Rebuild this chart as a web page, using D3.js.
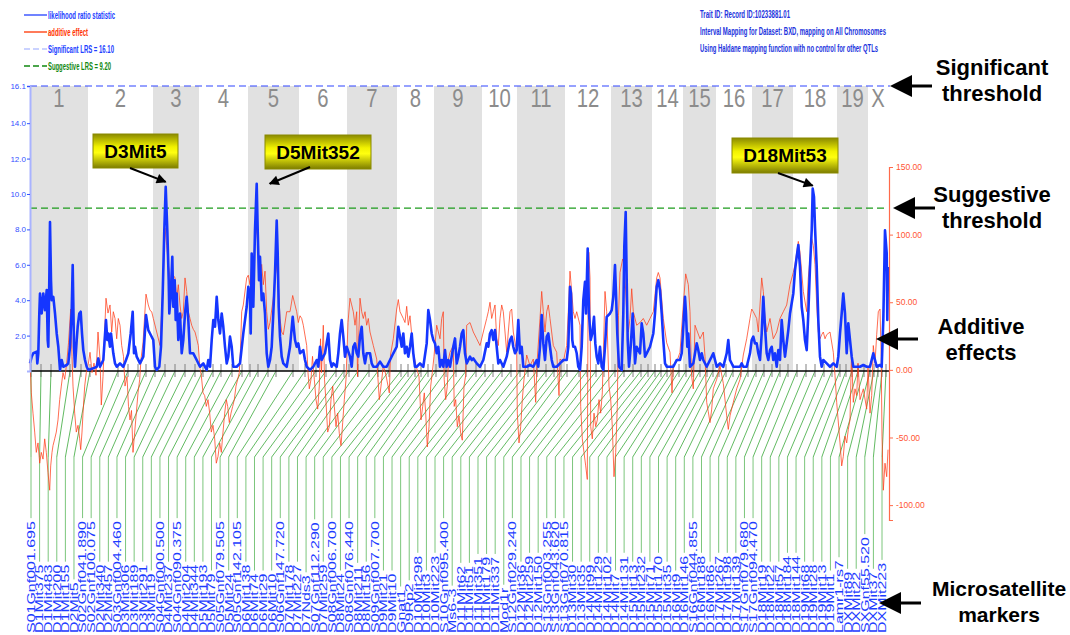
<!DOCTYPE html>
<html>
<head>
<meta charset="utf-8">
<script src="https://cdn.jsdelivr.net/npm/d3@7"></script>
<style>
  body { margin: 0; background: #fff; }
  svg { display: block; font-family: "Liberation Sans", Arial, sans-serif; }
</style>
</head>
<body>
<div id="chart"></div>
<script>
// ---- data ----
const chromosomes = ['1','2','3','4','5','6','7','8','9','10','11','12','13','14','15','16','17','18','19','X'];
// chromosome lengths, in map units along the x axis
const chromLengths = [58,65,46,49,51,48,50,37,48,35,48,46,41,31,33,36,41,44,31,20];

const markerNames = [
  'S01Gnf001.695','D1Mit375','D1Mit483','D1Mit200','D1Mit155',
  'D2Mit5','S02Gnf041.890','S02Gnf100.075','D2Mit340','D2Mit457',
  'S03Gnf004.460','D3Mit306','D3Mit189','D3Mit291','D3Mit19',
  'S04Gnf000.500','D4Mit237','S04Gnf090.375','D4Mit204','D4Mit344',
  'D5Mit193','D5Mit79','S05Gnf079.505','D5Mit24','S05Gnf142.105',
  'D6Mit138','D6Mit74','D6Mit29','D6Mit10','S06Gnf147.720',
  'D7Mit178','D7Mit227','D7Nds3','S07Gnf112.290','D7Mit259',
  'S08Gnf006.700','D8Mit24','S08Gnf076.440','D8Mit211','D8Mit156',
  'S09Gnf007.700','D9Mit21','D9Mit10','Gnat1','D9Rp2',
  'D10Mit298','D10Mit3','D10Mit223','S10Gnf095.400',
  'Ms6-3','D11Mit62','D11Mit51','D11Mit351','D11Mit179','D11Mit337',
  'Mod1r','S12Gnf029.240','D12Mit36','D12Mit259','D12Mit150',
  'S13Gnf003.255','S13Gnf043.620','S13Gnf070.815','D13Mit30','D13Mit35',
  'D14Mit99','D14Mit129','D14Mit102','D14Mit7','D14Mit131',
  'D15Mit13','D15Mit232','D15Mit71','D15Mit170','D15Mit35',
  'D16Mit9','D16Mit146','S16Gnf044.855','D16Mit188','D16Mit86',
  'D17Mit267','D17Mit198','D17Mit139','S17Gnf079.680','S17Gnf094.470',
  'D18Mit19','D18Mit22','D18Mit57','D18Mit184','D18Mit144',
  'D19Mit68','D19Mit28','D19Mit13','D19Mit1','Lamr1-rs7',
  'DXMit89','DXMit22','SXGnf55.520','DXMit37','DXMit223'
];
const markerPos = [
  1,11,21,40,51, 60,88,98,108,116, 125,135,145,155,165, 173,183,191,202,212,
  220,228,238,246,263, 275,286,296,306,314, 319,328,339,348,359, 371,378,385,391,398,
  406,416,426,436,446, 455,463,472,481, 490,498,507,516,524,531, 537,549,557,566,574,
  585,594,603,611,618, 625,631,637,643,649, 656,663,670,677,683, 689,696,703,711,718,
  726,734,742,750,758, 767,776,785,794,802, 810,816,822,828,834, 840,844,848,852,856
];

// likelihood ratio statistic: [position, LRS]
const lrsPoints = [
  [0,0.43],[1.7,0.81],[3.3,1.0],[6.7,1.09],[7.3,0.43],[8.3,1.0],[9.3,3.25],[10,4.38],[11.7,3.25],[13.3,4.38],
  [15,3.44],[16.7,4.57],[17.7,1.75],[18.3,1.37],[19.3,5.13],[20,8.42],[21,5.13],[21.7,4.0],[23.3,4.19],[25,3.25],
  [26.7,2.12],[28.3,1.37],[30,0.06],[31.7,0.62],[33.3,0.24],[36.7,0.34],[38.3,0.43],[40,1.37],[41.7,3.44],[42.7,5.98],
  [44,1.37],[45,0.24],[46.7,1.75],[47.7,2.5],[49.3,3.25],[50.7,3.35],[52,2.12],[53.3,1.18],[55,0.62],[56.7,0.24],
  [58.3,0.06],[63.3,0.15],[66.7,0.24],[68.3,0.71],[70,0.24],[73.3,0.62],[76,2.88],[77.3,1.75],[78.3,2.12],[80,1.37],
  [81,2.12],[83.3,1.0],[85,0.43],[86.7,0.24],[90,0.43],[93.3,0.24],[96,0.62],[98.3,1.0],[100.7,2.12],[102.7,3.35],
  [104,1.0],[105,1.37],[106.7,0.81],[110,0.43],[113.3,0.81],[116,3.16],[118.3,2.31],[120,2.12],[123.3,1.75],[125,0.24],
  [126.7,0.06],[129.3,0.24],[131,1.37],[132.7,4.38],[134.3,7.95],[135.7,10.4],[137.3,7.95],[138.7,5.13],[139.3,3.25],[140.7,4.19],
  [142.3,6.45],[143.3,3.63],[144.7,5.13],[145.7,2.88],[146.7,4.38],[148.3,1.75],[150,3.25],[151.7,1.0],[153.3,1.75],[155,3.25],
  [156.7,4.19],[158.3,2.88],[160,1.0],[163.3,1.0],[166.7,0.62],[170,0.24],[173.3,0.43],[176.7,0.06],[178.3,0.62],[180,0.24],
  [181.7,1.75],[183.3,2.88],[185,2.5],[186.7,4.19],[188.3,2.88],[190,2.12],[191.7,3.25],[193.3,2.5],[195,1.37],[196.7,0.43],
  [198.3,0.81],[200,1.94],[201.7,1.37],[203.3,0.24],[206.7,0.24],[210,0.43],[213.3,2.12],[216.7,3.63],[218.3,4.76],[220,4.19],
  [220.7,2.12],[221.7,6.64],[223.3,3.63],[225,7.95],[226.7,10.58],[227.7,7.95],[229,5.13],[230,6.45],[231.7,4.0],[233.3,4.38],
  [235,3.25],[236.7,1.0],[238.3,0.24],[240,0.62],[241.7,1.37],[243.3,3.25],[245,5.5],[246.7,8.5],[247.7,6.64],[248.7,3.63],
  [250,1.94],[251.7,0.81],[253.3,0.43],[256.7,0.24],[260,1.37],[262.7,3.06],[265,1.75],[266.7,1.37],[268.3,1.56],[270,1.0],
  [273.3,1.18],[275,0.62],[276.7,0.24],[280,0.06],[283.3,0.24],[286.7,0.62],[288.3,0.24],[290,1.37],[291.7,0.62],[295,1.0],
  [298.3,2.12],[300,0.62],[301.7,0.24],[303.3,0.43],[306.7,0.24],[308.3,1.0],[310,2.12],[311.7,2.88],[313.3,1.94],[315,0.81],
  [316.7,1.37],[320,0.81],[321.7,0.24],[323.3,1.37],[325,1.56],[326.7,1.0],[328.3,0.81],[330,1.94],[331.7,2.5],[333.3,1.0],
  [335,0.43],[336.7,1.0],[340,1.0],[341.7,0.43],[343.3,0.24],[346.7,0.24],[350,0.53],[353.3,0.24],[356.7,0.24],[360,0.62],
  [363.3,1.0],[366.7,1.37],[368.3,2.5],[370,1.94],[371.7,1.37],[373.3,2.12],[375,1.0],[376.7,1.37],[378.3,0.81],[380,1.37],
  [381.7,2.12],[383.3,1.0],[385,0.24],[386.7,0.24],[390,0.43],[393.3,0.24],[396.7,1.56],[398.3,3.44],[400,2.88],[401.7,2.12],
  [403.3,1.75],[405,1.56],[406.7,1.0],[408.3,1.37],[410,0.24],[411.7,0.62],[413.3,0.24],[415,1.18],[416.7,0.24],[418.3,0.62],
  [420,0.24],[423.3,1.37],[425,1.84],[426.7,0.43],[428.3,0.81],[430,1.37],[431.7,2.12],[433.3,2.31],[435,1.0],[436.7,0.43],
  [440,0.81],[441.7,0.62],[443.3,0.71],[446.7,0.43],[450,0.24],[453.3,0.62],[456.7,1.56],[458.3,1.37],[460,2.12],[461.7,2.31],
  [463.3,1.75],[465,2.31],[466.7,1.37],[468.3,0.43],[470,0.62],[473.3,0.24],[476.7,0.81],[480,1.75],[481.7,1.94],[483.3,1.37],
  [485,1.0],[486.7,1.18],[488.3,2.88],[490,1.0],[491.7,1.37],[493.3,0.24],[496.7,0.24],[500,0.34],[503.3,0.24],[506.7,0.62],
  [508.3,0.24],[510,1.37],[511.7,3.16],[513.3,1.56],[515,0.62],[516.7,1.94],[518.3,2.12],[520,1.37],[521.7,0.62],[523.3,0.24],
  [526.7,0.24],[530,0.43],[533.3,0.62],[536.7,0.62],[538.3,1.37],[540,4.76],[541,4.38],[542.3,1.75],[543.3,1.37],[545,1.37],
  [546.7,1.0],[548.3,0.24],[550,0.06],[551.7,1.37],[553.3,4.0],[555,5.04],[556,3.25],[557.7,6.92],[559,3.25],[560.7,1.75],
  [562.3,2.12],[564,3.06],[565.3,1.56],[566.7,0.81],[568.3,0.43],[570,1.37],[571.7,0.24],[573.3,0.06],[575,1.37],[576.7,3.06],
  [580,3.25],[581.7,3.44],[583.3,4.19],[585,5.98],[586,4.38],[587.3,2.12],[589,0.24],[591.7,0.06],[593.3,3.25],[594.3,7.01],
  [595.7,8.98],[596.7,5.13],[597.7,1.75],[599,0.24],[600.7,1.37],[602.7,3.25],[604,1.75],[605,0.43],[606.7,1.37],[610,1.0],
  [611.7,2.69],[613.3,2.12],[615,0.81],[616.7,1.0],[620,1.37],[623.3,2.12],[625,3.25],[626.7,4.76],[628.3,5.13],[630,4.57],
  [631.7,3.25],[633.3,1.75],[635,0.43],[636.7,0.24],[643.3,0.24],[646.7,0.62],[650,0.62],[651.7,1.0],[653.3,2.5],[655,4.19],
  [656,3.25],[657.3,1.37],[658.3,2.12],[660,0.24],[663.3,0.43],[666.7,1.56],[668.3,1.18],[670,0.62],[671.7,1.0],[673.3,0.62],
  [676.7,0.24],[680,0.62],[681.7,0.81],[683.3,1.0],[686.7,0.24],[690,0.43],[693.3,0.24],[696.7,1.0],[698.3,1.75],[700,0.62],
  [703.3,0.24],[710,0.24],[711.7,0.43],[713.3,0.24],[716.7,0.24],[720,1.0],[721.7,1.75],[723.3,1.94],[725,1.56],[726.7,1.56],
  [728.3,1.0],[730,0.62],[731.7,2.12],[733.3,4.19],[735,2.5],[736.7,1.0],[738.3,0.62],[740,1.18],[741.7,1.37],[743.3,0.62],
  [745,1.0],[746.7,0.24],[748.3,1.18],[750,0.62],[751.7,2.88],[753.3,1.75],[755,0.81],[756.7,1.56],[758.3,2.31],[760,3.25],
  [763.3,4.38],[765,5.7],[766.7,6.45],[768.3,7.11],[770,5.88],[771.7,3.63],[773.3,2.88],[775,1.75],[776.7,1.18],[778.3,3.25],
  [780,5.88],[781.7,7.95],[782.7,10.3],[784,9.83],[785,8.14],[786.7,5.88],[788.3,2.88],[790,0.81],[791.7,0.24],[793.3,0.62],
  [796.7,0.43],[800,0.24],[803.3,0.43],[806.7,0.24],[808.3,0.81],[810,2.12],[811.7,3.25],[813.3,4.38],[815,3.25],[816.7,1.0],
  [818.3,2.69],[820,1.75],[821.7,0.81],[823.3,0.24],[830,0.24],[833.3,0.34],[836.7,0.24],[840,0.24],[843.3,1.0],[845,0.62],
  [846.7,0.24],[850,0.34],[851.7,0.24],[853.3,2.88],[855,7.95],[856.7,6.64],[857.3,2.88],[858,5.88]
];

// additive effect: [position, effect]
const additivePoints = [
  [0,8],[1.3,-17],[3,-32],[4.7,-46],[6.3,-61],[8,-54],[9.7,-69],[11.3,-61],[13,-66],[14.7,-51],[16.3,-61],[18,-76],
  [19.7,-89],[20.7,-71],[22,-61],[23,-56],[24.7,-51],[26.3,-46],[28,-37],[29.7,-22],[31.3,-12],[33,-2],[34.7,-7],[36.7,5],
  [38.5,20],[40.7,45],[42,10],[43,-12],[44.7,-32],[46.3,-46],[48,-41],[49.7,-51],[50.7,-59],[52,-46],[53,-32],[54.7,-12],
  [56.3,-2],[58,3],[60,13],[62,-2],[64,5],[66,-4],[68,28],[70,8],[71.3,-26],[73,-5],[75,35],[76,53],[78,42],[80,48],
  [81.7,28],[83.3,43],[85,38],[86.7,23],[88.3,38],[90,33],[91.7,18],[93.5,10],[95,-12],[97,-5],[98.5,-27],[100,-37],
  [101.5,-30],[103,-61],[104.7,-46],[106.3,-32],[108,-17],[109.7,-7],[111,8],[113,20],[116,56],[118.3,48],[120,44],[121.7,43],
  [123.3,38],[126.7,28],[130,18],[131.7,43],[133.3,68],[135,105],[136.7,92],[138.3,78],[140,68],[141.7,58],[143.3,70],[145,68],
  [146.7,53],[148.3,63],[150,48],[151.7,38],[153.3,43],[155,68],[156.7,58],[158.3,43],[160,38],[161.7,33],[163.3,30],[165,28],
  [166.7,23],[168.3,18],[170,1],[171.3,-4],[173,-17],[174.7,-19],[176.3,-27],[178,-22],[179.7,-32],[181.3,-46],[183,-41],[184.7,-51],
  [186.3,-69],[188,-64],[189.7,-54],[191.3,-61],[193,-46],[194.7,-32],[196.3,-22],[197.7,-27],[199.3,-39],[201,-32],[202.7,-27],[204.3,-22],
  [206,-12],[207.7,-7],[209.3,-2],[210.5,16],[211.7,43],[213.3,48],[216.7,68],[218.3,70],[220,63],[221.7,78],[223.3,75],[225,97],
  [226.7,105],[228.3,87],[230,68],[231.7,78],[233.3,63],[235,73],[236.7,43],[238.3,30],[240,35],[243.3,53],[245,68],[246.7,78],
  [248.3,63],[250,38],[251.7,28],[253.3,26],[256.7,43],[260,43],[262.7,55],[265,48],[266.7,43],[268.3,35],[270,40],[271.7,38],
  [273.3,33],[276.7,18],[278,-2],[279.3,-14],[281,-7],[282.5,10],[284.3,-7],[286,-22],[287.7,-29],[289.3,-12],[290.5,23],[291.5,-2],
  [293.3,33],[294.5,-7],[296,-24],[297.7,-46],[299.3,-42],[301,-22],[302.7,-12],[304.3,-27],[306,-42],[307.7,-32],[309.3,-47],[311,-56],
  [312.7,-39],[314.3,-22],[316,-7],[318,35],[320,53],[321.7,48],[323.3,43],[325,33],[326.7,43],[327.5,-5],[328.5,20],[330,53],
  [331.7,43],[333.3,38],[335,43],[336.7,33],[338.3,38],[340,28],[343.3,18],[346.7,8],[349.3,-22],[351,-12],[353.3,3],[356,-4],
  [359.3,-17],[360.5,11],[363.3,23],[366.7,45],[368.3,52],[370,43],[373.3,38],[375,35],[376.7,47],[378.3,33],[380,40],[383.3,13],
  [386,3],[389,-5],[391,-37],[392.7,-27],[394.3,-17],[395.7,-32],[397.3,-57],[399,-42],[400.7,-12],[402.3,-2],[404,10],[406.7,33],
  [410,23],[411.7,38],[413.3,43],[414.2,-7],[415.7,-22],[417.3,-12],[418.5,8],[420,13],[423.3,18],[424.2,-27],[425.7,-22],[427.3,-42],
  [429,-34],[430.7,-47],[432.3,-52],[434,-12],[435.7,-4],[436.7,33],[440,35],[443.3,28],[446.7,23],[450,18],[453.3,28],[456.7,38],
  [458.3,43],[460,50],[461.7,38],[463.3,43],[465,48],[466.7,23],[468.3,18],[470,38],[471.7,48],[473.3,43],[475,28],[476.7,13],
  [478.3,28],[480,43],[481.7,45],[483.3,28],[486.7,13],[487.3,-32],[489,-54],[490.7,-42],[492.3,-22],[494,-7],[496.7,11],[500,3],
  [503.3,8],[505.7,-24],[507,5],[510,38],[511.7,58],[513.3,43],[515,28],[516.7,43],[518.3,48],[520,38],[523.3,18],[526.7,13],
  [529,-19],[530,8],[533.3,6],[536.7,18],[538.3,43],[540,73],[541.7,58],[543.3,43],[545,38],[546.7,43],[550,33],[550.7,-27],
  [552.3,-51],[554,-61],[555.7,-71],[557.3,-81],[558,40],[558.8,87],[560,68],[560.7,-42],[562.3,-51],[564,-32],[565.7,-42],[567.3,-37],
  [569,-22],[570.7,-32],[572.3,-17],[575,58],[576.7,43],[579,-12],[580.7,-22],[582.3,-42],[584,-79],[585.7,-61],[587.3,-27],[588.5,40],
  [590,72],[592.7,82],[594.3,78],[596.7,43],[598.3,28],[600,38],[601.7,60],[603.3,43],[606.7,33],[610,35],[613.3,38],[616.7,33],
  [620,38],[623.3,43],[626.7,68],[628.3,72],[630,68],[633.3,38],[636.7,20],[640,13],[642,-17],[643.3,3],[646.7,6],[650,13],
  [653.3,48],[655.7,71],[658.3,63],[660,43],[661.5,-4],[663.3,-14],[665,33],[670,23],[673.3,28],[675,10],[676.7,-24],[678.3,-31],
  [680,-39],[681.7,-29],[683.3,-14],[686.7,-7],[690,3],[693.3,-10],[696.7,-34],[698.3,-44],[700,-34],[703.3,-24],[706.7,-14],[710,-7],
  [713.3,11],[716.7,23],[720,38],[721.7,45],[723.3,43],[726.7,38],[728.3,28],[730,48],[731.7,68],[733.3,58],[735,38],[736.7,28],
  [740,38],[743.3,23],[746.7,28],[750,38],[753.3,43],[756.7,48],[760,63],[763.3,72],[765,78],[768.3,95],[770,87],[773.3,58],
  [776.7,43],[778.3,68],[780,82],[781.7,97],[783.3,92],[785,78],[786.7,48],[788.3,28],[790,23],[791.7,26],[793.3,28],[795,23],
  [796.7,26],[800,28],[803.3,13],[805,-4],[806.7,-24],[810,-54],[811.7,-71],[813.3,-64],[815,-49],[816.7,-54],[818.3,-44],[820,-37],
  [821.5,13],[823.3,-24],[825,-14],[826.7,-19],[828,5],[830,-22],[833.3,-14],[836.7,-29],[838,3],[840,-32],[841.7,-19],[843.3,18],
  [845,5],[846.7,26],[848.3,43],[850,45],[851.2,10],[852,-49],[853.3,-89],[855,-69],[856.7,-79],[858,-59]
];

const lrsTicks = [2, 4, 6, 8, 10, 12, 14, 16.1];
const effectTicks = [150, 100, 50, 0, -50, -100];
const significantLRS = 16.10;
const suggestiveLRS = 9.20;

const legendItems = ['likelihood ratio statistic', 'additive effect', 'Significant LRS = 16.10', 'Suggestive LRS = 9.20'];
const headerLines = [
  'Trait ID: Record ID:10233881.01',
  'Interval Mapping for Dataset: BXD, mapping on All Chromosomes',
  'Using Haldane mapping function with no control for other QTLs'
];
const peakLabels = [
  { name: 'D3Mit5', pos: 135.7, lrs: 10.4 },
  { name: 'D5Mit352', pos: 226.7, lrs: 10.58 },
  { name: 'D18Mit53', pos: 782.7, lrs: 10.3 }
];
const notes = [['Significant', 'threshold'], ['Suggestive', 'threshold'], ['Additive', 'effects'], ['Microsatellite', 'markers']];

// ---- drawing ----
const width = 1070, height = 635;
const plot = { left: 30, right: 888, top: 86, base: 371 };

const svg = d3.select('#chart').append('svg')
  .attr('width', width).attr('height', height);

const defs = svg.append('defs');
const grad = defs.append('linearGradient').attr('id', 'boxfill')
  .attr('x1', 0).attr('y1', 0).attr('x2', 0).attr('y2', 1);
[[0, '#8a8a00'], [0.38, '#f2f200'], [0.55, '#ffff10'], [1, '#7c7c00']].forEach(([o, c]) =>
  grad.append('stop').attr('offset', o).attr('stop-color', c));
defs.append('marker').attr('id', 'head')
  .attr('viewBox', '0 0 10 10').attr('refX', 9).attr('refY', 5)
  .attr('markerWidth', 12).attr('markerHeight', 10).attr('markerUnits', 'userSpaceOnUse')
  .attr('orient', 'auto')
  .append('path').attr('d', 'M0,0 L10,5 L0,10 Z').attr('fill', '#000');

const starts = Array.from(d3.cumsum([0, ...chromLengths]));
const total = starts[starts.length - 1];

const x = d3.scaleLinear().domain([0, total]).range([plot.left, plot.right]);
const yL = d3.scaleLinear().domain([0, 16.1]).range([plot.base, plot.top]);
const yR = d3.scaleLinear().domain([-111, 150]).range([520, 167]);
const labelX = d3.scalePoint().domain(markerNames).range([31, 882]);

// chromosome bands
svg.append('g').selectAll('rect')
  .data(chromosomes)
  .join('rect')
  .attr('x', (d, i) => x(starts[i]))
  .attr('y', plot.top)
  .attr('width', (d, i) => x(starts[i + 1]) - x(starts[i]))
  .attr('height', plot.base - plot.top)
  .attr('fill', (d, i) => (i % 2 === 0 ? '#e1e1e1' : '#fff'));

svg.append('g').selectAll('text')
  .data(chromosomes)
  .join('text')
  .attr('transform', (d, i) => `translate(${x((starts[i] + starts[i + 1]) / 2)},107) scale(0.78,1)`)
  .attr('text-anchor', 'middle')
  .style('font-family', '"Liberation Sans Narrow", "Liberation Sans", sans-serif')
  .style('font-size', '26px')
  .attr('fill', '#8c8c8c')
  .text(d => d);

// threshold lines
svg.append('line')
  .attr('x1', plot.left).attr('x2', plot.right + 2)
  .attr('y1', yL(significantLRS)).attr('y2', yL(significantLRS))
  .attr('stroke', '#2f45ff').attr('stroke-width', 1.2).attr('stroke-dasharray', '7,4');
svg.append('line')
  .attr('x1', plot.left).attr('x2', plot.right)
  .attr('y1', yL(suggestiveLRS)).attr('y2', yL(suggestiveLRS))
  .attr('stroke', '#1c9c1c').attr('stroke-width', 1.2).attr('stroke-dasharray', '7,4');

// marker connectors and labels
const markerG = svg.append('g');
const labelStretch = 1.48;
markerNames.forEach((name, i) => {
  const mx = x(markerPos[i]);
  const lx = labelX(name);
  markerG.append('line')
    .attr('x1', mx).attr('y1', plot.base).attr('x2', lx).attr('y2', 457)
    .attr('stroke', '#3aa83a').attr('stroke-width', 0.8);
  const t = markerG.append('text')
    .attr('transform', `translate(${lx + 3.9},633) rotate(-90) scale(${labelStretch},1)`)
    .style('font-size', '10.8px')
    .attr('fill', '#1c3cff')
    .text(name);
  const len = t.node().getComputedTextLength() * labelStretch;
  markerG.append('line')
    .attr('x1', lx).attr('y1', 457).attr('x2', lx).attr('y2', 633 - len - 3)
    .attr('stroke', '#7cc67c').attr('stroke-width', 1);
  markerG.append('line')
    .attr('x1', mx).attr('x2', mx).attr('y1', 364).attr('y2', 377)
    .attr('stroke', '#808080').attr('stroke-width', 1);
});

// baseline
svg.append('line')
  .attr('x1', plot.left).attr('x2', plot.right + 1)
  .attr('y1', plot.base).attr('y2', plot.base)
  .attr('stroke', '#000').attr('stroke-width', 1.5);

// additive effect line
const effectLine = d3.line().x(d => x(d[0])).y(d => yR(d[1]));
svg.append('path')
  .datum(additivePoints)
  .attr('d', effectLine)
  .attr('fill', 'none')
  .attr('stroke', '#ff3d1a').attr('stroke-width', 1).attr('stroke-opacity', 0.75);

// LRS line
const lrsLine = d3.line().x(d => x(d[0])).y(d => yL(d[1]));
svg.append('path')
  .datum(lrsPoints)
  .attr('d', lrsLine)
  .attr('fill', 'none')
  .attr('stroke', '#1536ff').attr('stroke-width', 2.6)
  .attr('stroke-linejoin', 'round');

// left axis (LRS)
const yAxis = d3.axisLeft(yL).tickValues(lrsTicks).tickSize(3).tickPadding(1)
  .tickFormat(d => (d === 16.1 ? '16.1' : d.toFixed(1)));
const yAxisG = svg.append('g').attr('transform', `translate(${plot.left},0)`).call(yAxis);
yAxisG.select('.domain').attr('stroke', '#a9b3ff').attr('stroke-width', 2);
yAxisG.selectAll('.tick line').attr('stroke', '#3350ff');
yAxisG.selectAll('.tick text')
  .attr('fill', '#3350ff')
  .style('font-family', '"Liberation Sans Narrow", sans-serif')
  .style('font-size', '8px');

// right axis (additive effect)
const rAxis = d3.axisRight(yR).tickValues(effectTicks).tickSize(4).tickPadding(3)
  .tickFormat(d => d.toFixed(2));
const rAxisG = svg.append('g').attr('transform', `translate(${plot.right + 1},0)`).call(rAxis);
rAxisG.select('.domain').attr('stroke', '#ff6a4a').attr('stroke-width', 1.2);
rAxisG.selectAll('.tick line').attr('stroke', '#ff6a4a');
rAxisG.selectAll('.tick text')
  .attr('fill', '#ff5533')
  .style('font-family', '"Liberation Sans Narrow", sans-serif')
  .style('font-size', '8.5px');

// legend
const legendColors = ['#2240ff', '#ff3300', '#2240ff', '#118811'];
const legendLens = [67, 40, 66, 63];
const legend = svg.append('g');
legendItems.forEach((txt, i) => {
  const y = 15 + i * 17;
  legend.append('line')
    .attr('x1', 24).attr('x2', 47).attr('y1', y).attr('y2', y)
    .attr('stroke', i === 2 ? '#b9c3ff' : legendColors[i])
    .attr('stroke-width', 1.3)
    .attr('stroke-dasharray', i >= 2 ? '6,3' : null);
  legend.append('text')
    .attr('x', 48).attr('y', y + 3.5)
    .attr('textLength', legendLens[i]).attr('lengthAdjust', 'spacingAndGlyphs')
    .style('font-family', '"Liberation Sans Narrow", sans-serif')
    .style('font-size', '10px').style('font-weight', 'bold')
    .attr('fill', legendColors[i])
    .text(txt);
});

// header text
const headerLens = [90, 186, 178];
headerLines.forEach((txt, i) => {
  svg.append('text')
    .attr('x', 700).attr('y', 18 + i * 17)
    .attr('textLength', headerLens[i]).attr('lengthAdjust', 'spacingAndGlyphs')
    .style('font-family', '"Liberation Sans Narrow", sans-serif')
    .style('font-size', '10px').style('font-weight', 'bold')
    .attr('fill', '#2233dd')
    .text(txt);
});

// peak callouts
const boxes = [
  { x: 93, y: 134, w: 85, h: 34, from: [130, 168], dx: 0, dy: -5 },
  { x: 265, y: 135, w: 106, h: 34, from: [310, 167], dx: 13, dy: 0 },
  { x: 732, y: 138, w: 106, h: 35, from: [778, 173], dx: 0, dy: -3 }
];
peakLabels.forEach((p, i) => {
  const b = boxes[i];
  const g = svg.append('g');
  g.append('rect')
    .attr('x', b.x).attr('y', b.y).attr('width', b.w).attr('height', b.h)
    .attr('fill', 'url(#boxfill)').attr('stroke', '#8a8a00').attr('stroke-width', 1);
  g.append('text')
    .attr('x', b.x + b.w / 2).attr('y', b.y + b.h / 2 + 6.5)
    .attr('text-anchor', 'middle')
    .style('font-size', '19px').style('font-weight', 'bold')
    .attr('fill', '#000')
    .text(p.name);
  g.append('line')
    .attr('x1', b.from[0]).attr('y1', b.from[1])
    .attr('x2', x(p.pos) + b.dx).attr('y2', yL(p.lrs) + b.dy)
    .attr('stroke', '#000').attr('stroke-width', 2)
    .attr('marker-end', 'url(#head)');
});

// right-hand notes with arrows
const noteLayout = [
  { cx: 992, y1: 75, tip: 890, ay: 86, size: 22 },
  { cx: 992, y1: 202, tip: 893, ay: 208, size: 22 },
  { cx: 981, y1: 334, tip: 876, ay: 339, size: 22 },
  { cx: 999, y1: 596, tip: 879, ay: 603, size: 21 }
];
notes.forEach((lines, i) => {
  const l = noteLayout[i];
  lines.forEach((txt, j) => {
    svg.append('text')
      .attr('x', l.cx).attr('y', l.y1 + j * 26)
      .attr('text-anchor', 'middle')
      .style('font-size', l.size + 'px').style('font-weight', 'bold')
      .attr('fill', '#000')
      .text(txt);
  });
  svg.append('line')
    .attr('x1', l.tip + 18).attr('x2', l.tip + 42)
    .attr('y1', l.ay).attr('y2', l.ay)
    .attr('stroke', '#000').attr('stroke-width', 3);
  svg.append('path')
    .attr('d', `M${l.tip},${l.ay} L${l.tip + 22},${l.ay - 11} L${l.tip + 22},${l.ay + 11} Z`)
    .attr('fill', '#000');
});
</script>
</body>
</html>
